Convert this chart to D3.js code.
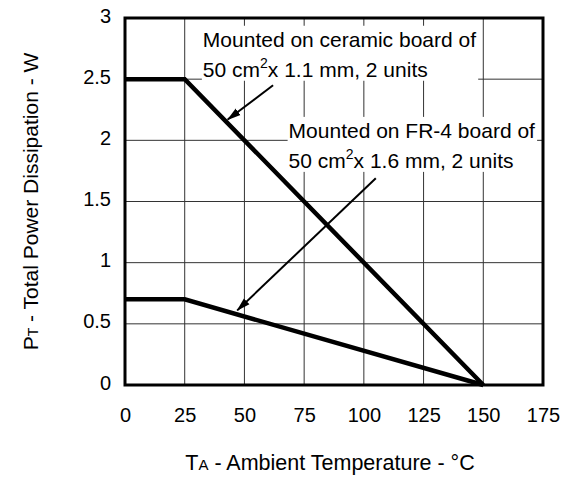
<!DOCTYPE html>
<html>
<head>
<meta charset="utf-8">
<script src="https://cdn.jsdelivr.net/npm/d3@7"></script>
<style>
    html, body { margin: 0; padding: 0; background: #fff; }
    svg { display: block; font-family: "Liberation Sans", Arial, sans-serif; }
</style>
</head>
<body>
<svg id="chart" width="568" height="477"></svg>
<script>
    'use strict';

    // derating curves, temperature (C) vs total power (W)
    var ceramicTemp = [0, 25, 150],
        ceramicPower = [2.5, 2.5, 0],
        fr4Temp = [0, 25, 150],
        fr4Power = [0.7, 0.7, 0],
        xTicks = [0, 25, 50, 75, 100, 125, 150, 175],
        yTicks = [0, 0.5, 1, 1.5, 2, 2.5, 3],
        yTickLabels = ['0', '0.5', '1', '1.5', '2', '2.5', '3'];

    // annotation arrows: [fromTemp, fromPower, toTemp, toPower]
    var ceramicArrow = [62, 2.45, 43, 2.17],
        fr4Arrow = [105, 1.69, 47, 0.61];

    var margin = {top: 18, right: 25, bottom: 92, left: 125},
        width = 568 - margin.left - margin.right,
        height = 477 - margin.top - margin.bottom;

    var svg = d3.select('#chart'),
        g = svg.append('g')
            .attr('transform', 'translate(' + margin.left + ',' + margin.top + ')');

    var x = d3.scaleLinear().domain([0, 175]).range([0, width]),
        y = d3.scaleLinear().domain([0, 3]).range([height, 0]);

    function zip(xs, ys) {
        return xs.map(function (d, i) {
            return [d, ys[i]];
        });
    }

    // grid
    g.append('g')
        .attr('class', 'grid')
        .selectAll('line.v')
        .data(xTicks.slice(1, -1))
        .enter()
        .append('line')
        .attr('x1', function (d) { return x(d); })
        .attr('x2', function (d) { return x(d); })
        .attr('y1', 0)
        .attr('y2', height)
        .attr('stroke', '#333')
        .attr('stroke-width', 1);

    g.select('g.grid')
        .selectAll('line.h')
        .data(yTicks.slice(1, -1))
        .enter()
        .append('line')
        .attr('x1', 0)
        .attr('x2', width)
        .attr('y1', function (d) { return y(d); })
        .attr('y2', function (d) { return y(d); })
        .attr('stroke', '#333')
        .attr('stroke-width', 1);

    // axes (labels only)
    var xAxis = g.append('g')
        .attr('transform', 'translate(0,' + height + ')')
        .call(d3.axisBottom(x).tickValues(xTicks).tickSize(0).tickPadding(23));

    var yAxis = g.append('g')
        .call(d3.axisLeft(y).tickValues(yTicks).tickSize(0).tickPadding(14)
            .tickFormat(function (d, i) { return yTickLabels[i]; }));

    [xAxis, yAxis].forEach(function (a) {
        a.select('.domain').remove();
        a.selectAll('text')
            .attr('font-family', '"Liberation Sans", Arial, sans-serif')
            .attr('font-size', 20)
            .attr('fill', '#000');
    });
    yAxis.selectAll('text').attr('dy', '0.2em');

    // curves
    var line = d3.line()
        .x(function (d) { return x(d[0]); })
        .y(function (d) { return y(d[1]); });

    g.selectAll('path.curve')
        .data([zip(ceramicTemp, ceramicPower), zip(fr4Temp, fr4Power)])
        .enter()
        .append('path')
        .attr('class', 'curve')
        .attr('d', line)
        .attr('fill', 'none')
        .attr('stroke', '#000')
        .attr('stroke-width', 4.5)
        .attr('stroke-linejoin', 'miter');

    // annotation text with white backing
    function label(tx, ty, first, thick) {
        var lg = g.append('g'),
            bg = lg.append('rect').attr('fill', '#fff'),
            t = lg.append('text')
                .attr('x', x(tx))
                .attr('y', y(ty))
                .attr('font-size', 21)
                .attr('fill', '#000'),
            bb;

        t.append('tspan').text(first);
        t.append('tspan').attr('x', x(tx)).attr('dy', 30).text('50 cm');
        t.append('tspan').attr('font-size', 14).attr('dy', -9).text('2');
        t.append('tspan').attr('dy', 9).text('x ' + thick + ' mm, 2 units');

        bb = t.node().getBBox();
        bg.attr('x', bb.x - 1)
            .attr('y', bb.y - 2)
            .attr('width', bb.width + 3)
            .attr('height', bb.height + 2);
    }

    label(32.6, 2.765, 'Mounted on ceramic board of', '1.1');
    label(68.5, 2.02, 'Mounted on FR-4 board of', '1.6');

    // arrows
    svg.append('defs')
        .append('marker')
        .attr('id', 'head')
        .attr('markerUnits', 'userSpaceOnUse')
        .attr('viewBox', '0 0 14 10')
        .attr('refX', 13)
        .attr('refY', 5)
        .attr('markerWidth', 14)
        .attr('markerHeight', 10)
        .attr('orient', 'auto')
        .append('path')
        .attr('d', 'M0,1 L14,5 L0,9 Z')
        .attr('fill', '#000');

    g.selectAll('line.arrow')
        .data([ceramicArrow, fr4Arrow])
        .enter()
        .append('line')
        .attr('class', 'arrow')
        .attr('x1', function (d) { return x(d[0]); })
        .attr('y1', function (d) { return y(d[1]); })
        .attr('x2', function (d) { return x(d[2]); })
        .attr('y2', function (d) { return y(d[3]); })
        .attr('stroke', '#000')
        .attr('stroke-width', 2)
        .attr('marker-end', 'url(#head)');

    // frame
    g.append('rect')
        .attr('width', width)
        .attr('height', height)
        .attr('fill', 'none')
        .attr('stroke', '#000')
        .attr('stroke-width', 3);

    // axis titles
    var xt = svg.append('text')
        .attr('x', margin.left + width / 2 - 4)
        .attr('y', 470)
        .attr('text-anchor', 'middle')
        .attr('font-size', 21.5)
        .attr('fill', '#000');
    xt.append('tspan').text('T');
    xt.append('tspan').attr('font-size', 15).text('A');
    xt.append('tspan').text(' - Ambient Temperature - \u00B0C');

    var yt = svg.append('text')
        .attr('transform', 'translate(38,' + (margin.top + height / 2) + ') rotate(-90)')
        .attr('text-anchor', 'middle')
        .attr('font-size', 21)
        .attr('fill', '#000');
    yt.append('tspan').text('P');
    yt.append('tspan').attr('font-size', 14).text('T');
    yt.append('tspan').text(' - Total Power Dissipation - W');
</script>
</body>
</html>
